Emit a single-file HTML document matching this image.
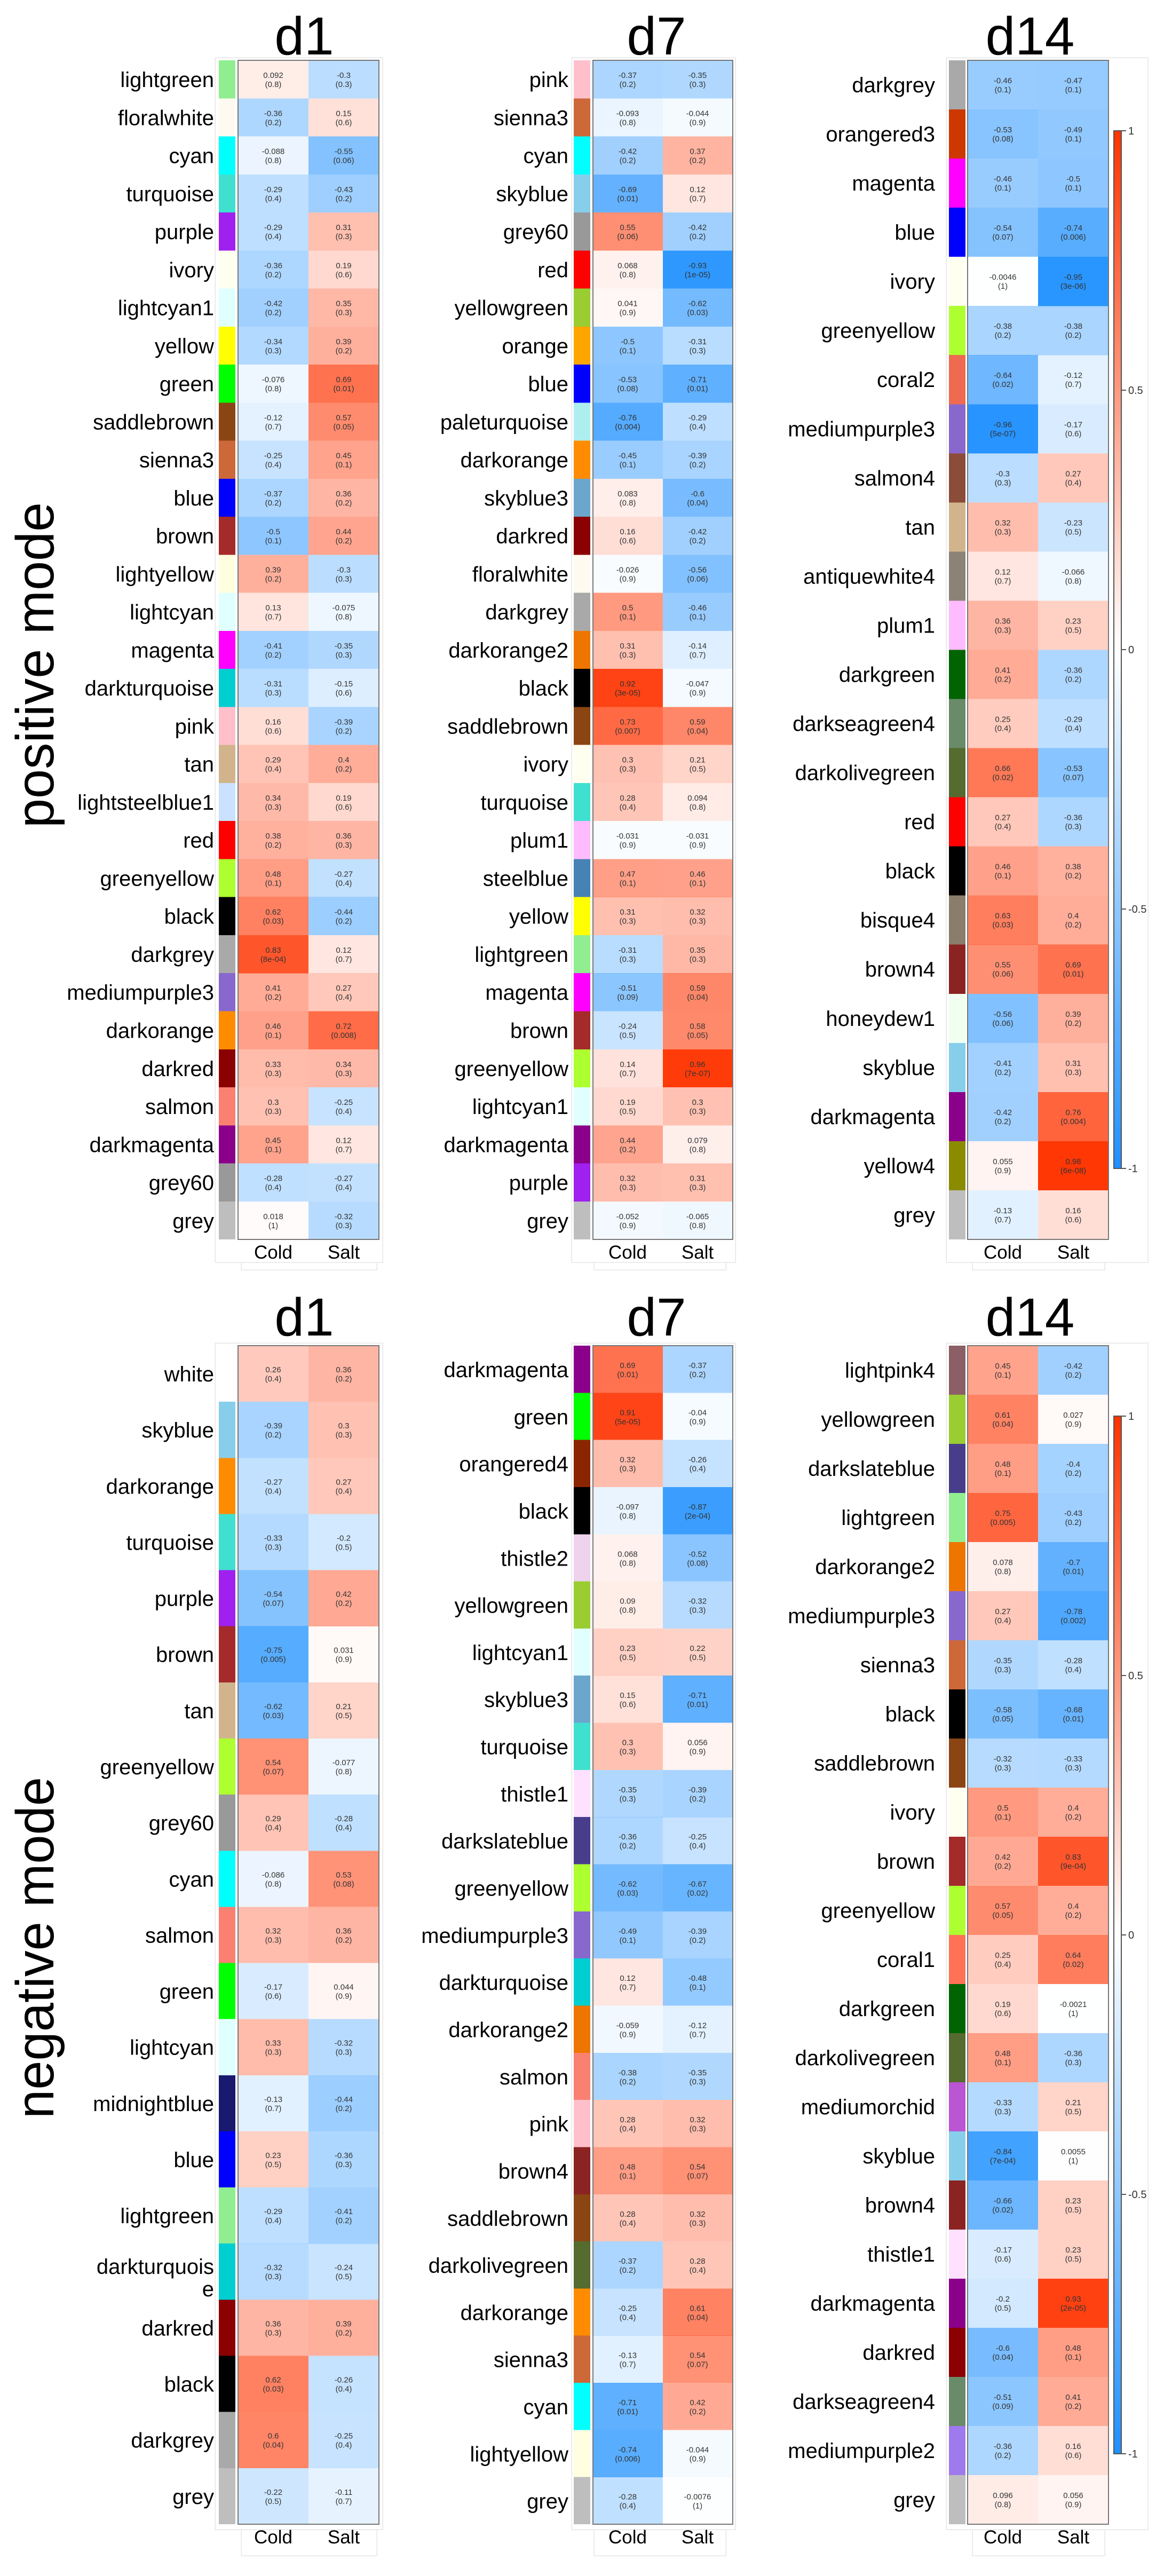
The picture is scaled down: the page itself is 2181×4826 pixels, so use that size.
<!DOCTYPE html>
<html><head><meta charset="utf-8"><style>
html,body{margin:0;padding:0;background:#fff}
svg{display:block}
.l{font-family:"Liberation Sans",sans-serif;font-size:40px;text-anchor:end;fill:#000}
.n{font-family:"Liberation Sans",sans-serif;font-size:15px;text-anchor:middle;fill:#333}
.p{fill:#FF3300}.q{fill:#1E90FF}
.t{font-family:"Liberation Sans",sans-serif;font-size:100px;text-anchor:middle;fill:#000}
.x{font-family:"Liberation Sans",sans-serif;font-size:35px;text-anchor:middle;fill:#000}
.m{font-family:"Liberation Sans",sans-serif;font-size:100px;text-anchor:middle;fill:#000}
.c{font-family:"Liberation Sans",sans-serif;font-size:20px;fill:#333}
.f{fill:none;stroke:#e6e6e6;stroke-width:1.5}
.b{fill:none;stroke:#777;stroke-width:2}
rect{shape-rendering:crispEdges}
</style></head><body>
<svg width="2181" height="4826" viewBox="0 0 2181 4826" xmlns="http://www.w3.org/2000/svg">
<defs><linearGradient id="cb" x1="0" y1="0" x2="0" y2="1"><stop offset="0" stop-color="#FF3300"/><stop offset=".5" stop-color="#FFFFFF"/><stop offset="1" stop-color="#1E90FF"/></linearGradient></defs>

<text class="m" transform="translate(100,1246) rotate(-90)" textLength="610" lengthAdjust="spacingAndGlyphs">positive mode</text>
<text class="m" transform="translate(100,3649) rotate(-90)" textLength="640" lengthAdjust="spacingAndGlyphs">negative mode</text>

<text class="t" x="570" y="102">d1</text>
<text class="t" x="1230" y="102">d7</text>
<text class="t" x="1930" y="102">d14</text>
<text class="t" x="570" y="2502">d1</text>
<text class="t" x="1230" y="2502">d7</text>
<text class="t" x="1930" y="2502">d14</text>

<rect class="f" x="403" y="108" width="314" height="2257"/>
<rect class="f" x="1071" y="108" width="307" height="2257"/>
<rect class="f" x="1773" y="108" width="378" height="2257"/>
<rect class="f" x="403" y="2516" width="314" height="2223"/>
<rect class="f" x="1071" y="2516" width="307" height="2223"/>
<rect class="f" x="1773" y="2516" width="378" height="2223"/>
<rect class="f" x="452" y="2365" width="254" height="14"/>
<rect class="f" x="1113" y="2365" width="247" height="14"/>
<rect class="f" x="1822" y="2365" width="248" height="14"/>
<rect class="f" x="452" y="4739" width="254" height="49"/>
<rect class="f" x="1113" y="4739" width="247" height="49"/>
<rect class="f" x="1822" y="4739" width="248" height="49"/>

<!-- ===== TOP d1 ===== -->
<g transform="translate(0,113)">
<g transform="translate(0,0)"><text class="l" x="401" y="50">lightgreen</text><rect x="410" width="31" height="71.3" fill="#90EE90"/><rect class="p" x="446" width="132" height="71.3" fill-opacity=".092"/><rect class="q" x="578" width="132" height="71.3" fill-opacity=".3"/><text class="n" x="512" y="33">0.092</text><text class="n" x="512" y="50">(0.8)</text><text class="n" x="644" y="33">-0.3</text><text class="n" x="644" y="50">(0.3)</text></g>
<g transform="translate(0,71.26)"><text class="l" x="401" y="50">floralwhite</text><rect x="410" width="31" height="71.3" fill="#FFFAF0"/><rect class="q" x="446" width="132" height="71.3" fill-opacity=".36"/><rect class="p" x="578" width="132" height="71.3" fill-opacity=".15"/><text class="n" x="512" y="33">-0.36</text><text class="n" x="512" y="50">(0.2)</text><text class="n" x="644" y="33">0.15</text><text class="n" x="644" y="50">(0.6)</text></g>
<g transform="translate(0,142.52)"><text class="l" x="401" y="50">cyan</text><rect x="410" width="31" height="71.3" fill="#00FFFF"/><rect class="q" x="446" width="132" height="71.3" fill-opacity=".088"/><rect class="q" x="578" width="132" height="71.3" fill-opacity=".55"/><text class="n" x="512" y="33">-0.088</text><text class="n" x="512" y="50">(0.8)</text><text class="n" x="644" y="33">-0.55</text><text class="n" x="644" y="50">(0.06)</text></g>
<g transform="translate(0,213.78)"><text class="l" x="401" y="50">turquoise</text><rect x="410" width="31" height="71.3" fill="#40E0D0"/><rect class="q" x="446" width="132" height="71.3" fill-opacity=".29"/><rect class="q" x="578" width="132" height="71.3" fill-opacity=".43"/><text class="n" x="512" y="33">-0.29</text><text class="n" x="512" y="50">(0.4)</text><text class="n" x="644" y="33">-0.43</text><text class="n" x="644" y="50">(0.2)</text></g>
<g transform="translate(0,285.04)"><text class="l" x="401" y="50">purple</text><rect x="410" width="31" height="71.3" fill="#A020F0"/><rect class="q" x="446" width="132" height="71.3" fill-opacity=".29"/><rect class="p" x="578" width="132" height="71.3" fill-opacity=".31"/><text class="n" x="512" y="33">-0.29</text><text class="n" x="512" y="50">(0.4)</text><text class="n" x="644" y="33">0.31</text><text class="n" x="644" y="50">(0.3)</text></g>
<g transform="translate(0,356.3)"><text class="l" x="401" y="50">ivory</text><rect x="410" width="31" height="71.3" fill="#FFFFF0"/><rect class="q" x="446" width="132" height="71.3" fill-opacity=".36"/><rect class="p" x="578" width="132" height="71.3" fill-opacity=".19"/><text class="n" x="512" y="33">-0.36</text><text class="n" x="512" y="50">(0.2)</text><text class="n" x="644" y="33">0.19</text><text class="n" x="644" y="50">(0.6)</text></g>
<g transform="translate(0,427.56)"><text class="l" x="401" y="50">lightcyan1</text><rect x="410" width="31" height="71.3" fill="#E0FFFF"/><rect class="q" x="446" width="132" height="71.3" fill-opacity=".42"/><rect class="p" x="578" width="132" height="71.3" fill-opacity=".35"/><text class="n" x="512" y="33">-0.42</text><text class="n" x="512" y="50">(0.2)</text><text class="n" x="644" y="33">0.35</text><text class="n" x="644" y="50">(0.3)</text></g>
<g transform="translate(0,498.82)"><text class="l" x="401" y="50">yellow</text><rect x="410" width="31" height="71.3" fill="#FFFF00"/><rect class="q" x="446" width="132" height="71.3" fill-opacity=".34"/><rect class="p" x="578" width="132" height="71.3" fill-opacity=".39"/><text class="n" x="512" y="33">-0.34</text><text class="n" x="512" y="50">(0.3)</text><text class="n" x="644" y="33">0.39</text><text class="n" x="644" y="50">(0.2)</text></g>
<g transform="translate(0,570.08)"><text class="l" x="401" y="50">green</text><rect x="410" width="31" height="71.3" fill="#00FF00"/><rect class="q" x="446" width="132" height="71.3" fill-opacity=".076"/><rect class="p" x="578" width="132" height="71.3" fill-opacity=".69"/><text class="n" x="512" y="33">-0.076</text><text class="n" x="512" y="50">(0.8)</text><text class="n" x="644" y="33">0.69</text><text class="n" x="644" y="50">(0.01)</text></g>
<g transform="translate(0,641.34)"><text class="l" x="401" y="50">saddlebrown</text><rect x="410" width="31" height="71.3" fill="#8B4513"/><rect class="q" x="446" width="132" height="71.3" fill-opacity=".12"/><rect class="p" x="578" width="132" height="71.3" fill-opacity=".57"/><text class="n" x="512" y="33">-0.12</text><text class="n" x="512" y="50">(0.7)</text><text class="n" x="644" y="33">0.57</text><text class="n" x="644" y="50">(0.05)</text></g>
<g transform="translate(0,712.6)"><text class="l" x="401" y="50">sienna3</text><rect x="410" width="31" height="71.3" fill="#CD6839"/><rect class="q" x="446" width="132" height="71.3" fill-opacity=".25"/><rect class="p" x="578" width="132" height="71.3" fill-opacity=".45"/><text class="n" x="512" y="33">-0.25</text><text class="n" x="512" y="50">(0.4)</text><text class="n" x="644" y="33">0.45</text><text class="n" x="644" y="50">(0.1)</text></g>
<g transform="translate(0,783.86)"><text class="l" x="401" y="50">blue</text><rect x="410" width="31" height="71.3" fill="#0000FF"/><rect class="q" x="446" width="132" height="71.3" fill-opacity=".37"/><rect class="p" x="578" width="132" height="71.3" fill-opacity=".36"/><text class="n" x="512" y="33">-0.37</text><text class="n" x="512" y="50">(0.2)</text><text class="n" x="644" y="33">0.36</text><text class="n" x="644" y="50">(0.2)</text></g>
<g transform="translate(0,855.12)"><text class="l" x="401" y="50">brown</text><rect x="410" width="31" height="71.3" fill="#A52A2A"/><rect class="q" x="446" width="132" height="71.3" fill-opacity=".5"/><rect class="p" x="578" width="132" height="71.3" fill-opacity=".44"/><text class="n" x="512" y="33">-0.5</text><text class="n" x="512" y="50">(0.1)</text><text class="n" x="644" y="33">0.44</text><text class="n" x="644" y="50">(0.2)</text></g>
<g transform="translate(0,926.38)"><text class="l" x="401" y="50">lightyellow</text><rect x="410" width="31" height="71.3" fill="#FFFFE0"/><rect class="p" x="446" width="132" height="71.3" fill-opacity=".39"/><rect class="q" x="578" width="132" height="71.3" fill-opacity=".3"/><text class="n" x="512" y="33">0.39</text><text class="n" x="512" y="50">(0.2)</text><text class="n" x="644" y="33">-0.3</text><text class="n" x="644" y="50">(0.3)</text></g>
<g transform="translate(0,997.64)"><text class="l" x="401" y="50">lightcyan</text><rect x="410" width="31" height="71.3" fill="#E0FFFF"/><rect class="p" x="446" width="132" height="71.3" fill-opacity=".13"/><rect class="q" x="578" width="132" height="71.3" fill-opacity=".075"/><text class="n" x="512" y="33">0.13</text><text class="n" x="512" y="50">(0.7)</text><text class="n" x="644" y="33">-0.075</text><text class="n" x="644" y="50">(0.8)</text></g>
<g transform="translate(0,1068.9)"><text class="l" x="401" y="50">magenta</text><rect x="410" width="31" height="71.3" fill="#FF00FF"/><rect class="q" x="446" width="132" height="71.3" fill-opacity=".41"/><rect class="q" x="578" width="132" height="71.3" fill-opacity=".35"/><text class="n" x="512" y="33">-0.41</text><text class="n" x="512" y="50">(0.2)</text><text class="n" x="644" y="33">-0.35</text><text class="n" x="644" y="50">(0.3)</text></g>
<g transform="translate(0,1140.16)"><text class="l" x="401" y="50">darkturquoise</text><rect x="410" width="31" height="71.3" fill="#00CED1"/><rect class="q" x="446" width="132" height="71.3" fill-opacity=".31"/><rect class="q" x="578" width="132" height="71.3" fill-opacity=".15"/><text class="n" x="512" y="33">-0.31</text><text class="n" x="512" y="50">(0.3)</text><text class="n" x="644" y="33">-0.15</text><text class="n" x="644" y="50">(0.6)</text></g>
<g transform="translate(0,1211.42)"><text class="l" x="401" y="50">pink</text><rect x="410" width="31" height="71.3" fill="#FFC0CB"/><rect class="p" x="446" width="132" height="71.3" fill-opacity=".16"/><rect class="q" x="578" width="132" height="71.3" fill-opacity=".39"/><text class="n" x="512" y="33">0.16</text><text class="n" x="512" y="50">(0.6)</text><text class="n" x="644" y="33">-0.39</text><text class="n" x="644" y="50">(0.2)</text></g>
<g transform="translate(0,1282.68)"><text class="l" x="401" y="50">tan</text><rect x="410" width="31" height="71.3" fill="#D2B48C"/><rect class="p" x="446" width="132" height="71.3" fill-opacity=".29"/><rect class="p" x="578" width="132" height="71.3" fill-opacity=".4"/><text class="n" x="512" y="33">0.29</text><text class="n" x="512" y="50">(0.4)</text><text class="n" x="644" y="33">0.4</text><text class="n" x="644" y="50">(0.2)</text></g>
<g transform="translate(0,1353.94)"><text class="l" x="401" y="50">lightsteelblue1</text><rect x="410" width="31" height="71.3" fill="#CAE1FF"/><rect class="p" x="446" width="132" height="71.3" fill-opacity=".34"/><rect class="p" x="578" width="132" height="71.3" fill-opacity=".19"/><text class="n" x="512" y="33">0.34</text><text class="n" x="512" y="50">(0.3)</text><text class="n" x="644" y="33">0.19</text><text class="n" x="644" y="50">(0.6)</text></g>
<g transform="translate(0,1425.2)"><text class="l" x="401" y="50">red</text><rect x="410" width="31" height="71.3" fill="#FF0000"/><rect class="p" x="446" width="132" height="71.3" fill-opacity=".38"/><rect class="p" x="578" width="132" height="71.3" fill-opacity=".36"/><text class="n" x="512" y="33">0.38</text><text class="n" x="512" y="50">(0.2)</text><text class="n" x="644" y="33">0.36</text><text class="n" x="644" y="50">(0.3)</text></g>
<g transform="translate(0,1496.46)"><text class="l" x="401" y="50">greenyellow</text><rect x="410" width="31" height="71.3" fill="#ADFF2F"/><rect class="p" x="446" width="132" height="71.3" fill-opacity=".48"/><rect class="q" x="578" width="132" height="71.3" fill-opacity=".27"/><text class="n" x="512" y="33">0.48</text><text class="n" x="512" y="50">(0.1)</text><text class="n" x="644" y="33">-0.27</text><text class="n" x="644" y="50">(0.4)</text></g>
<g transform="translate(0,1567.72)"><text class="l" x="401" y="50">black</text><rect x="410" width="31" height="71.3" fill="#000000"/><rect class="p" x="446" width="132" height="71.3" fill-opacity=".62"/><rect class="q" x="578" width="132" height="71.3" fill-opacity=".44"/><text class="n" x="512" y="33">0.62</text><text class="n" x="512" y="50">(0.03)</text><text class="n" x="644" y="33">-0.44</text><text class="n" x="644" y="50">(0.2)</text></g>
<g transform="translate(0,1638.98)"><text class="l" x="401" y="50">darkgrey</text><rect x="410" width="31" height="71.3" fill="#A9A9A9"/><rect class="p" x="446" width="132" height="71.3" fill-opacity=".83"/><rect class="p" x="578" width="132" height="71.3" fill-opacity=".12"/><text class="n" x="512" y="33">0.83</text><text class="n" x="512" y="50">(8e-04)</text><text class="n" x="644" y="33">0.12</text><text class="n" x="644" y="50">(0.7)</text></g>
<g transform="translate(0,1710.24)"><text class="l" x="401" y="50">mediumpurple3</text><rect x="410" width="31" height="71.3" fill="#8968CD"/><rect class="p" x="446" width="132" height="71.3" fill-opacity=".41"/><rect class="p" x="578" width="132" height="71.3" fill-opacity=".27"/><text class="n" x="512" y="33">0.41</text><text class="n" x="512" y="50">(0.2)</text><text class="n" x="644" y="33">0.27</text><text class="n" x="644" y="50">(0.4)</text></g>
<g transform="translate(0,1781.5)"><text class="l" x="401" y="50">darkorange</text><rect x="410" width="31" height="71.3" fill="#FF8C00"/><rect class="p" x="446" width="132" height="71.3" fill-opacity=".46"/><rect class="p" x="578" width="132" height="71.3" fill-opacity=".72"/><text class="n" x="512" y="33">0.46</text><text class="n" x="512" y="50">(0.1)</text><text class="n" x="644" y="33">0.72</text><text class="n" x="644" y="50">(0.008)</text></g>
<g transform="translate(0,1852.76)"><text class="l" x="401" y="50">darkred</text><rect x="410" width="31" height="71.3" fill="#8B0000"/><rect class="p" x="446" width="132" height="71.3" fill-opacity=".33"/><rect class="p" x="578" width="132" height="71.3" fill-opacity=".34"/><text class="n" x="512" y="33">0.33</text><text class="n" x="512" y="50">(0.3)</text><text class="n" x="644" y="33">0.34</text><text class="n" x="644" y="50">(0.3)</text></g>
<g transform="translate(0,1924.02)"><text class="l" x="401" y="50">salmon</text><rect x="410" width="31" height="71.3" fill="#FA8072"/><rect class="p" x="446" width="132" height="71.3" fill-opacity=".3"/><rect class="q" x="578" width="132" height="71.3" fill-opacity=".25"/><text class="n" x="512" y="33">0.3</text><text class="n" x="512" y="50">(0.3)</text><text class="n" x="644" y="33">-0.25</text><text class="n" x="644" y="50">(0.4)</text></g>
<g transform="translate(0,1995.28)"><text class="l" x="401" y="50">darkmagenta</text><rect x="410" width="31" height="71.3" fill="#8B008B"/><rect class="p" x="446" width="132" height="71.3" fill-opacity=".45"/><rect class="p" x="578" width="132" height="71.3" fill-opacity=".12"/><text class="n" x="512" y="33">0.45</text><text class="n" x="512" y="50">(0.1)</text><text class="n" x="644" y="33">0.12</text><text class="n" x="644" y="50">(0.7)</text></g>
<g transform="translate(0,2066.54)"><text class="l" x="401" y="50">grey60</text><rect x="410" width="31" height="71.3" fill="#999999"/><rect class="q" x="446" width="132" height="71.3" fill-opacity=".28"/><rect class="q" x="578" width="132" height="71.3" fill-opacity=".27"/><text class="n" x="512" y="33">-0.28</text><text class="n" x="512" y="50">(0.4)</text><text class="n" x="644" y="33">-0.27</text><text class="n" x="644" y="50">(0.4)</text></g>
<g transform="translate(0,2137.8)"><text class="l" x="401" y="50">grey</text><rect x="410" width="31" height="71.3" fill="#BEBEBE"/><rect class="p" x="446" width="132" height="71.3" fill-opacity=".018"/><rect class="q" x="578" width="132" height="71.3" fill-opacity=".32"/><text class="n" x="512" y="33">0.018</text><text class="n" x="512" y="50">(1)</text><text class="n" x="644" y="33">-0.32</text><text class="n" x="644" y="50">(0.3)</text></g>
<rect class="b" x="446" y="0" width="264" height="2209"/>
</g>

<!-- ===== TOP d7 ===== -->
<g transform="translate(0,113)">
<g transform="translate(0,0)"><text class="l" x="1065" y="50">pink</text><rect x="1075" width="31" height="71.3" fill="#FFC0CB"/><rect class="q" x="1111" width="131" height="71.3" fill-opacity=".37"/><rect class="q" x="1242" width="131" height="71.3" fill-opacity=".35"/><text class="n" x="1176" y="33">-0.37</text><text class="n" x="1176" y="50">(0.2)</text><text class="n" x="1307" y="33">-0.35</text><text class="n" x="1307" y="50">(0.3)</text></g>
<g transform="translate(0,71.26)"><text class="l" x="1065" y="50">sienna3</text><rect x="1075" width="31" height="71.3" fill="#CD6839"/><rect class="q" x="1111" width="131" height="71.3" fill-opacity=".093"/><rect class="q" x="1242" width="131" height="71.3" fill-opacity=".044"/><text class="n" x="1176" y="33">-0.093</text><text class="n" x="1176" y="50">(0.8)</text><text class="n" x="1307" y="33">-0.044</text><text class="n" x="1307" y="50">(0.9)</text></g>
<g transform="translate(0,142.52)"><text class="l" x="1065" y="50">cyan</text><rect x="1075" width="31" height="71.3" fill="#00FFFF"/><rect class="q" x="1111" width="131" height="71.3" fill-opacity=".42"/><rect class="p" x="1242" width="131" height="71.3" fill-opacity=".37"/><text class="n" x="1176" y="33">-0.42</text><text class="n" x="1176" y="50">(0.2)</text><text class="n" x="1307" y="33">0.37</text><text class="n" x="1307" y="50">(0.2)</text></g>
<g transform="translate(0,213.78)"><text class="l" x="1065" y="50">skyblue</text><rect x="1075" width="31" height="71.3" fill="#87CEEB"/><rect class="q" x="1111" width="131" height="71.3" fill-opacity=".69"/><rect class="p" x="1242" width="131" height="71.3" fill-opacity=".12"/><text class="n" x="1176" y="33">-0.69</text><text class="n" x="1176" y="50">(0.01)</text><text class="n" x="1307" y="33">0.12</text><text class="n" x="1307" y="50">(0.7)</text></g>
<g transform="translate(0,285.04)"><text class="l" x="1065" y="50">grey60</text><rect x="1075" width="31" height="71.3" fill="#999999"/><rect class="p" x="1111" width="131" height="71.3" fill-opacity=".55"/><rect class="q" x="1242" width="131" height="71.3" fill-opacity=".42"/><text class="n" x="1176" y="33">0.55</text><text class="n" x="1176" y="50">(0.06)</text><text class="n" x="1307" y="33">-0.42</text><text class="n" x="1307" y="50">(0.2)</text></g>
<g transform="translate(0,356.3)"><text class="l" x="1065" y="50">red</text><rect x="1075" width="31" height="71.3" fill="#FF0000"/><rect class="p" x="1111" width="131" height="71.3" fill-opacity=".068"/><rect class="q" x="1242" width="131" height="71.3" fill-opacity=".93"/><text class="n" x="1176" y="33">0.068</text><text class="n" x="1176" y="50">(0.8)</text><text class="n" x="1307" y="33">-0.93</text><text class="n" x="1307" y="50">(1e-05)</text></g>
<g transform="translate(0,427.56)"><text class="l" x="1065" y="50">yellowgreen</text><rect x="1075" width="31" height="71.3" fill="#9ACD32"/><rect class="p" x="1111" width="131" height="71.3" fill-opacity=".041"/><rect class="q" x="1242" width="131" height="71.3" fill-opacity=".62"/><text class="n" x="1176" y="33">0.041</text><text class="n" x="1176" y="50">(0.9)</text><text class="n" x="1307" y="33">-0.62</text><text class="n" x="1307" y="50">(0.03)</text></g>
<g transform="translate(0,498.82)"><text class="l" x="1065" y="50">orange</text><rect x="1075" width="31" height="71.3" fill="#FFA500"/><rect class="q" x="1111" width="131" height="71.3" fill-opacity=".5"/><rect class="q" x="1242" width="131" height="71.3" fill-opacity=".31"/><text class="n" x="1176" y="33">-0.5</text><text class="n" x="1176" y="50">(0.1)</text><text class="n" x="1307" y="33">-0.31</text><text class="n" x="1307" y="50">(0.3)</text></g>
<g transform="translate(0,570.08)"><text class="l" x="1065" y="50">blue</text><rect x="1075" width="31" height="71.3" fill="#0000FF"/><rect class="q" x="1111" width="131" height="71.3" fill-opacity=".53"/><rect class="q" x="1242" width="131" height="71.3" fill-opacity=".71"/><text class="n" x="1176" y="33">-0.53</text><text class="n" x="1176" y="50">(0.08)</text><text class="n" x="1307" y="33">-0.71</text><text class="n" x="1307" y="50">(0.01)</text></g>
<g transform="translate(0,641.34)"><text class="l" x="1065" y="50">paleturquoise</text><rect x="1075" width="31" height="71.3" fill="#AFEEEE"/><rect class="q" x="1111" width="131" height="71.3" fill-opacity=".76"/><rect class="q" x="1242" width="131" height="71.3" fill-opacity=".29"/><text class="n" x="1176" y="33">-0.76</text><text class="n" x="1176" y="50">(0.004)</text><text class="n" x="1307" y="33">-0.29</text><text class="n" x="1307" y="50">(0.4)</text></g>
<g transform="translate(0,712.6)"><text class="l" x="1065" y="50">darkorange</text><rect x="1075" width="31" height="71.3" fill="#FF8C00"/><rect class="q" x="1111" width="131" height="71.3" fill-opacity=".45"/><rect class="q" x="1242" width="131" height="71.3" fill-opacity=".39"/><text class="n" x="1176" y="33">-0.45</text><text class="n" x="1176" y="50">(0.1)</text><text class="n" x="1307" y="33">-0.39</text><text class="n" x="1307" y="50">(0.2)</text></g>
<g transform="translate(0,783.86)"><text class="l" x="1065" y="50">skyblue3</text><rect x="1075" width="31" height="71.3" fill="#6CA6CD"/><rect class="p" x="1111" width="131" height="71.3" fill-opacity=".083"/><rect class="q" x="1242" width="131" height="71.3" fill-opacity=".6"/><text class="n" x="1176" y="33">0.083</text><text class="n" x="1176" y="50">(0.8)</text><text class="n" x="1307" y="33">-0.6</text><text class="n" x="1307" y="50">(0.04)</text></g>
<g transform="translate(0,855.12)"><text class="l" x="1065" y="50">darkred</text><rect x="1075" width="31" height="71.3" fill="#8B0000"/><rect class="p" x="1111" width="131" height="71.3" fill-opacity=".16"/><rect class="q" x="1242" width="131" height="71.3" fill-opacity=".42"/><text class="n" x="1176" y="33">0.16</text><text class="n" x="1176" y="50">(0.6)</text><text class="n" x="1307" y="33">-0.42</text><text class="n" x="1307" y="50">(0.2)</text></g>
<g transform="translate(0,926.38)"><text class="l" x="1065" y="50">floralwhite</text><rect x="1075" width="31" height="71.3" fill="#FFFAF0"/><rect class="q" x="1111" width="131" height="71.3" fill-opacity=".026"/><rect class="q" x="1242" width="131" height="71.3" fill-opacity=".56"/><text class="n" x="1176" y="33">-0.026</text><text class="n" x="1176" y="50">(0.9)</text><text class="n" x="1307" y="33">-0.56</text><text class="n" x="1307" y="50">(0.06)</text></g>
<g transform="translate(0,997.64)"><text class="l" x="1065" y="50">darkgrey</text><rect x="1075" width="31" height="71.3" fill="#A9A9A9"/><rect class="p" x="1111" width="131" height="71.3" fill-opacity=".5"/><rect class="q" x="1242" width="131" height="71.3" fill-opacity=".46"/><text class="n" x="1176" y="33">0.5</text><text class="n" x="1176" y="50">(0.1)</text><text class="n" x="1307" y="33">-0.46</text><text class="n" x="1307" y="50">(0.1)</text></g>
<g transform="translate(0,1068.9)"><text class="l" x="1065" y="50">darkorange2</text><rect x="1075" width="31" height="71.3" fill="#EE7600"/><rect class="p" x="1111" width="131" height="71.3" fill-opacity=".31"/><rect class="q" x="1242" width="131" height="71.3" fill-opacity=".14"/><text class="n" x="1176" y="33">0.31</text><text class="n" x="1176" y="50">(0.3)</text><text class="n" x="1307" y="33">-0.14</text><text class="n" x="1307" y="50">(0.7)</text></g>
<g transform="translate(0,1140.16)"><text class="l" x="1065" y="50">black</text><rect x="1075" width="31" height="71.3" fill="#000000"/><rect class="p" x="1111" width="131" height="71.3" fill-opacity=".92"/><rect class="q" x="1242" width="131" height="71.3" fill-opacity=".047"/><text class="n" x="1176" y="33">0.92</text><text class="n" x="1176" y="50">(3e-05)</text><text class="n" x="1307" y="33">-0.047</text><text class="n" x="1307" y="50">(0.9)</text></g>
<g transform="translate(0,1211.42)"><text class="l" x="1065" y="50">saddlebrown</text><rect x="1075" width="31" height="71.3" fill="#8B4513"/><rect class="p" x="1111" width="131" height="71.3" fill-opacity=".73"/><rect class="p" x="1242" width="131" height="71.3" fill-opacity=".59"/><text class="n" x="1176" y="33">0.73</text><text class="n" x="1176" y="50">(0.007)</text><text class="n" x="1307" y="33">0.59</text><text class="n" x="1307" y="50">(0.04)</text></g>
<g transform="translate(0,1282.68)"><text class="l" x="1065" y="50">ivory</text><rect x="1075" width="31" height="71.3" fill="#FFFFF0"/><rect class="p" x="1111" width="131" height="71.3" fill-opacity=".3"/><rect class="p" x="1242" width="131" height="71.3" fill-opacity=".21"/><text class="n" x="1176" y="33">0.3</text><text class="n" x="1176" y="50">(0.3)</text><text class="n" x="1307" y="33">0.21</text><text class="n" x="1307" y="50">(0.5)</text></g>
<g transform="translate(0,1353.94)"><text class="l" x="1065" y="50">turquoise</text><rect x="1075" width="31" height="71.3" fill="#40E0D0"/><rect class="p" x="1111" width="131" height="71.3" fill-opacity=".28"/><rect class="p" x="1242" width="131" height="71.3" fill-opacity=".094"/><text class="n" x="1176" y="33">0.28</text><text class="n" x="1176" y="50">(0.4)</text><text class="n" x="1307" y="33">0.094</text><text class="n" x="1307" y="50">(0.8)</text></g>
<g transform="translate(0,1425.2)"><text class="l" x="1065" y="50">plum1</text><rect x="1075" width="31" height="71.3" fill="#FFBBFF"/><rect class="q" x="1111" width="131" height="71.3" fill-opacity=".031"/><rect class="q" x="1242" width="131" height="71.3" fill-opacity=".031"/><text class="n" x="1176" y="33">-0.031</text><text class="n" x="1176" y="50">(0.9)</text><text class="n" x="1307" y="33">-0.031</text><text class="n" x="1307" y="50">(0.9)</text></g>
<g transform="translate(0,1496.46)"><text class="l" x="1065" y="50">steelblue</text><rect x="1075" width="31" height="71.3" fill="#4682B4"/><rect class="p" x="1111" width="131" height="71.3" fill-opacity=".47"/><rect class="p" x="1242" width="131" height="71.3" fill-opacity=".46"/><text class="n" x="1176" y="33">0.47</text><text class="n" x="1176" y="50">(0.1)</text><text class="n" x="1307" y="33">0.46</text><text class="n" x="1307" y="50">(0.1)</text></g>
<g transform="translate(0,1567.72)"><text class="l" x="1065" y="50">yellow</text><rect x="1075" width="31" height="71.3" fill="#FFFF00"/><rect class="p" x="1111" width="131" height="71.3" fill-opacity=".31"/><rect class="p" x="1242" width="131" height="71.3" fill-opacity=".32"/><text class="n" x="1176" y="33">0.31</text><text class="n" x="1176" y="50">(0.3)</text><text class="n" x="1307" y="33">0.32</text><text class="n" x="1307" y="50">(0.3)</text></g>
<g transform="translate(0,1638.98)"><text class="l" x="1065" y="50">lightgreen</text><rect x="1075" width="31" height="71.3" fill="#90EE90"/><rect class="q" x="1111" width="131" height="71.3" fill-opacity=".31"/><rect class="p" x="1242" width="131" height="71.3" fill-opacity=".35"/><text class="n" x="1176" y="33">-0.31</text><text class="n" x="1176" y="50">(0.3)</text><text class="n" x="1307" y="33">0.35</text><text class="n" x="1307" y="50">(0.3)</text></g>
<g transform="translate(0,1710.24)"><text class="l" x="1065" y="50">magenta</text><rect x="1075" width="31" height="71.3" fill="#FF00FF"/><rect class="q" x="1111" width="131" height="71.3" fill-opacity=".51"/><rect class="p" x="1242" width="131" height="71.3" fill-opacity=".59"/><text class="n" x="1176" y="33">-0.51</text><text class="n" x="1176" y="50">(0.09)</text><text class="n" x="1307" y="33">0.59</text><text class="n" x="1307" y="50">(0.04)</text></g>
<g transform="translate(0,1781.5)"><text class="l" x="1065" y="50">brown</text><rect x="1075" width="31" height="71.3" fill="#A52A2A"/><rect class="q" x="1111" width="131" height="71.3" fill-opacity=".24"/><rect class="p" x="1242" width="131" height="71.3" fill-opacity=".58"/><text class="n" x="1176" y="33">-0.24</text><text class="n" x="1176" y="50">(0.5)</text><text class="n" x="1307" y="33">0.58</text><text class="n" x="1307" y="50">(0.05)</text></g>
<g transform="translate(0,1852.76)"><text class="l" x="1065" y="50">greenyellow</text><rect x="1075" width="31" height="71.3" fill="#ADFF2F"/><rect class="p" x="1111" width="131" height="71.3" fill-opacity=".14"/><rect class="p" x="1242" width="131" height="71.3" fill-opacity=".96"/><text class="n" x="1176" y="33">0.14</text><text class="n" x="1176" y="50">(0.7)</text><text class="n" x="1307" y="33">0.96</text><text class="n" x="1307" y="50">(7e-07)</text></g>
<g transform="translate(0,1924.02)"><text class="l" x="1065" y="50">lightcyan1</text><rect x="1075" width="31" height="71.3" fill="#E0FFFF"/><rect class="p" x="1111" width="131" height="71.3" fill-opacity=".19"/><rect class="p" x="1242" width="131" height="71.3" fill-opacity=".3"/><text class="n" x="1176" y="33">0.19</text><text class="n" x="1176" y="50">(0.5)</text><text class="n" x="1307" y="33">0.3</text><text class="n" x="1307" y="50">(0.3)</text></g>
<g transform="translate(0,1995.28)"><text class="l" x="1065" y="50">darkmagenta</text><rect x="1075" width="31" height="71.3" fill="#8B008B"/><rect class="p" x="1111" width="131" height="71.3" fill-opacity=".44"/><rect class="p" x="1242" width="131" height="71.3" fill-opacity=".079"/><text class="n" x="1176" y="33">0.44</text><text class="n" x="1176" y="50">(0.2)</text><text class="n" x="1307" y="33">0.079</text><text class="n" x="1307" y="50">(0.8)</text></g>
<g transform="translate(0,2066.54)"><text class="l" x="1065" y="50">purple</text><rect x="1075" width="31" height="71.3" fill="#A020F0"/><rect class="p" x="1111" width="131" height="71.3" fill-opacity=".32"/><rect class="p" x="1242" width="131" height="71.3" fill-opacity=".31"/><text class="n" x="1176" y="33">0.32</text><text class="n" x="1176" y="50">(0.3)</text><text class="n" x="1307" y="33">0.31</text><text class="n" x="1307" y="50">(0.3)</text></g>
<g transform="translate(0,2137.8)"><text class="l" x="1065" y="50">grey</text><rect x="1075" width="31" height="71.3" fill="#BEBEBE"/><rect class="q" x="1111" width="131" height="71.3" fill-opacity=".052"/><rect class="q" x="1242" width="131" height="71.3" fill-opacity=".065"/><text class="n" x="1176" y="33">-0.052</text><text class="n" x="1176" y="50">(0.9)</text><text class="n" x="1307" y="33">-0.065</text><text class="n" x="1307" y="50">(0.8)</text></g>
<rect class="b" x="1111" y="0" width="262" height="2209"/>
</g>

<!-- ===== TOP d14 ===== -->
<g transform="translate(0,113)">
<g transform="translate(0,0)"><text class="l" x="1752" y="60">darkgrey</text><rect x="1778" width="31" height="92.1" fill="#A9A9A9"/><rect class="q" x="1813" width="132" height="92.1" fill-opacity=".46"/><rect class="q" x="1945" width="132" height="92.1" fill-opacity=".47"/><text class="n" x="1879" y="43">-0.46</text><text class="n" x="1879" y="60">(0.1)</text><text class="n" x="2011" y="43">-0.47</text><text class="n" x="2011" y="60">(0.1)</text></g>
<g transform="translate(0,92.04)"><text class="l" x="1752" y="60">orangered3</text><rect x="1778" width="31" height="92.1" fill="#CD3700"/><rect class="q" x="1813" width="132" height="92.1" fill-opacity=".53"/><rect class="q" x="1945" width="132" height="92.1" fill-opacity=".49"/><text class="n" x="1879" y="43">-0.53</text><text class="n" x="1879" y="60">(0.08)</text><text class="n" x="2011" y="43">-0.49</text><text class="n" x="2011" y="60">(0.1)</text></g>
<g transform="translate(0,184.08)"><text class="l" x="1752" y="60">magenta</text><rect x="1778" width="31" height="92.1" fill="#FF00FF"/><rect class="q" x="1813" width="132" height="92.1" fill-opacity=".46"/><rect class="q" x="1945" width="132" height="92.1" fill-opacity=".5"/><text class="n" x="1879" y="43">-0.46</text><text class="n" x="1879" y="60">(0.1)</text><text class="n" x="2011" y="43">-0.5</text><text class="n" x="2011" y="60">(0.1)</text></g>
<g transform="translate(0,276.12)"><text class="l" x="1752" y="60">blue</text><rect x="1778" width="31" height="92.1" fill="#0000FF"/><rect class="q" x="1813" width="132" height="92.1" fill-opacity=".54"/><rect class="q" x="1945" width="132" height="92.1" fill-opacity=".74"/><text class="n" x="1879" y="43">-0.54</text><text class="n" x="1879" y="60">(0.07)</text><text class="n" x="2011" y="43">-0.74</text><text class="n" x="2011" y="60">(0.006)</text></g>
<g transform="translate(0,368.16)"><text class="l" x="1752" y="60">ivory</text><rect x="1778" width="31" height="92.1" fill="#FFFFF0"/><rect class="q" x="1813" width="132" height="92.1" fill-opacity=".0046"/><rect class="q" x="1945" width="132" height="92.1" fill-opacity=".95"/><text class="n" x="1879" y="43">-0.0046</text><text class="n" x="1879" y="60">(1)</text><text class="n" x="2011" y="43">-0.95</text><text class="n" x="2011" y="60">(3e-06)</text></g>
<g transform="translate(0,460.2)"><text class="l" x="1752" y="60">greenyellow</text><rect x="1778" width="31" height="92.1" fill="#ADFF2F"/><rect class="q" x="1813" width="132" height="92.1" fill-opacity=".38"/><rect class="q" x="1945" width="132" height="92.1" fill-opacity=".38"/><text class="n" x="1879" y="43">-0.38</text><text class="n" x="1879" y="60">(0.2)</text><text class="n" x="2011" y="43">-0.38</text><text class="n" x="2011" y="60">(0.2)</text></g>
<g transform="translate(0,552.24)"><text class="l" x="1752" y="60">coral2</text><rect x="1778" width="31" height="92.1" fill="#EE6A50"/><rect class="q" x="1813" width="132" height="92.1" fill-opacity=".64"/><rect class="q" x="1945" width="132" height="92.1" fill-opacity=".12"/><text class="n" x="1879" y="43">-0.64</text><text class="n" x="1879" y="60">(0.02)</text><text class="n" x="2011" y="43">-0.12</text><text class="n" x="2011" y="60">(0.7)</text></g>
<g transform="translate(0,644.28)"><text class="l" x="1752" y="60">mediumpurple3</text><rect x="1778" width="31" height="92.1" fill="#8968CD"/><rect class="q" x="1813" width="132" height="92.1" fill-opacity=".96"/><rect class="q" x="1945" width="132" height="92.1" fill-opacity=".17"/><text class="n" x="1879" y="43">-0.96</text><text class="n" x="1879" y="60">(5e-07)</text><text class="n" x="2011" y="43">-0.17</text><text class="n" x="2011" y="60">(0.6)</text></g>
<g transform="translate(0,736.32)"><text class="l" x="1752" y="60">salmon4</text><rect x="1778" width="31" height="92.1" fill="#8B4C39"/><rect class="q" x="1813" width="132" height="92.1" fill-opacity=".3"/><rect class="p" x="1945" width="132" height="92.1" fill-opacity=".27"/><text class="n" x="1879" y="43">-0.3</text><text class="n" x="1879" y="60">(0.3)</text><text class="n" x="2011" y="43">0.27</text><text class="n" x="2011" y="60">(0.4)</text></g>
<g transform="translate(0,828.36)"><text class="l" x="1752" y="60">tan</text><rect x="1778" width="31" height="92.1" fill="#D2B48C"/><rect class="p" x="1813" width="132" height="92.1" fill-opacity=".32"/><rect class="q" x="1945" width="132" height="92.1" fill-opacity=".23"/><text class="n" x="1879" y="43">0.32</text><text class="n" x="1879" y="60">(0.3)</text><text class="n" x="2011" y="43">-0.23</text><text class="n" x="2011" y="60">(0.5)</text></g>
<g transform="translate(0,920.4)"><text class="l" x="1752" y="60">antiquewhite4</text><rect x="1778" width="31" height="92.1" fill="#8B8378"/><rect class="p" x="1813" width="132" height="92.1" fill-opacity=".12"/><rect class="q" x="1945" width="132" height="92.1" fill-opacity=".066"/><text class="n" x="1879" y="43">0.12</text><text class="n" x="1879" y="60">(0.7)</text><text class="n" x="2011" y="43">-0.066</text><text class="n" x="2011" y="60">(0.8)</text></g>
<g transform="translate(0,1012.44)"><text class="l" x="1752" y="60">plum1</text><rect x="1778" width="31" height="92.1" fill="#FFBBFF"/><rect class="p" x="1813" width="132" height="92.1" fill-opacity=".36"/><rect class="p" x="1945" width="132" height="92.1" fill-opacity=".23"/><text class="n" x="1879" y="43">0.36</text><text class="n" x="1879" y="60">(0.3)</text><text class="n" x="2011" y="43">0.23</text><text class="n" x="2011" y="60">(0.5)</text></g>
<g transform="translate(0,1104.48)"><text class="l" x="1752" y="60">darkgreen</text><rect x="1778" width="31" height="92.1" fill="#006400"/><rect class="p" x="1813" width="132" height="92.1" fill-opacity=".41"/><rect class="q" x="1945" width="132" height="92.1" fill-opacity=".36"/><text class="n" x="1879" y="43">0.41</text><text class="n" x="1879" y="60">(0.2)</text><text class="n" x="2011" y="43">-0.36</text><text class="n" x="2011" y="60">(0.2)</text></g>
<g transform="translate(0,1196.52)"><text class="l" x="1752" y="60">darkseagreen4</text><rect x="1778" width="31" height="92.1" fill="#698B69"/><rect class="p" x="1813" width="132" height="92.1" fill-opacity=".25"/><rect class="q" x="1945" width="132" height="92.1" fill-opacity=".29"/><text class="n" x="1879" y="43">0.25</text><text class="n" x="1879" y="60">(0.4)</text><text class="n" x="2011" y="43">-0.29</text><text class="n" x="2011" y="60">(0.4)</text></g>
<g transform="translate(0,1288.56)"><text class="l" x="1752" y="60">darkolivegreen</text><rect x="1778" width="31" height="92.1" fill="#556B2F"/><rect class="p" x="1813" width="132" height="92.1" fill-opacity=".66"/><rect class="q" x="1945" width="132" height="92.1" fill-opacity=".53"/><text class="n" x="1879" y="43">0.66</text><text class="n" x="1879" y="60">(0.02)</text><text class="n" x="2011" y="43">-0.53</text><text class="n" x="2011" y="60">(0.07)</text></g>
<g transform="translate(0,1380.6)"><text class="l" x="1752" y="60">red</text><rect x="1778" width="31" height="92.1" fill="#FF0000"/><rect class="p" x="1813" width="132" height="92.1" fill-opacity=".27"/><rect class="q" x="1945" width="132" height="92.1" fill-opacity=".36"/><text class="n" x="1879" y="43">0.27</text><text class="n" x="1879" y="60">(0.4)</text><text class="n" x="2011" y="43">-0.36</text><text class="n" x="2011" y="60">(0.3)</text></g>
<g transform="translate(0,1472.64)"><text class="l" x="1752" y="60">black</text><rect x="1778" width="31" height="92.1" fill="#000000"/><rect class="p" x="1813" width="132" height="92.1" fill-opacity=".46"/><rect class="p" x="1945" width="132" height="92.1" fill-opacity=".38"/><text class="n" x="1879" y="43">0.46</text><text class="n" x="1879" y="60">(0.1)</text><text class="n" x="2011" y="43">0.38</text><text class="n" x="2011" y="60">(0.2)</text></g>
<g transform="translate(0,1564.68)"><text class="l" x="1752" y="60">bisque4</text><rect x="1778" width="31" height="92.1" fill="#8B7D6B"/><rect class="p" x="1813" width="132" height="92.1" fill-opacity=".63"/><rect class="p" x="1945" width="132" height="92.1" fill-opacity=".4"/><text class="n" x="1879" y="43">0.63</text><text class="n" x="1879" y="60">(0.03)</text><text class="n" x="2011" y="43">0.4</text><text class="n" x="2011" y="60">(0.2)</text></g>
<g transform="translate(0,1656.72)"><text class="l" x="1752" y="60">brown4</text><rect x="1778" width="31" height="92.1" fill="#8B2323"/><rect class="p" x="1813" width="132" height="92.1" fill-opacity=".55"/><rect class="p" x="1945" width="132" height="92.1" fill-opacity=".69"/><text class="n" x="1879" y="43">0.55</text><text class="n" x="1879" y="60">(0.06)</text><text class="n" x="2011" y="43">0.69</text><text class="n" x="2011" y="60">(0.01)</text></g>
<g transform="translate(0,1748.76)"><text class="l" x="1752" y="60">honeydew1</text><rect x="1778" width="31" height="92.1" fill="#F0FFF0"/><rect class="q" x="1813" width="132" height="92.1" fill-opacity=".56"/><rect class="p" x="1945" width="132" height="92.1" fill-opacity=".39"/><text class="n" x="1879" y="43">-0.56</text><text class="n" x="1879" y="60">(0.06)</text><text class="n" x="2011" y="43">0.39</text><text class="n" x="2011" y="60">(0.2)</text></g>
<g transform="translate(0,1840.8)"><text class="l" x="1752" y="60">skyblue</text><rect x="1778" width="31" height="92.1" fill="#87CEEB"/><rect class="q" x="1813" width="132" height="92.1" fill-opacity=".41"/><rect class="p" x="1945" width="132" height="92.1" fill-opacity=".31"/><text class="n" x="1879" y="43">-0.41</text><text class="n" x="1879" y="60">(0.2)</text><text class="n" x="2011" y="43">0.31</text><text class="n" x="2011" y="60">(0.3)</text></g>
<g transform="translate(0,1932.84)"><text class="l" x="1752" y="60">darkmagenta</text><rect x="1778" width="31" height="92.1" fill="#8B008B"/><rect class="q" x="1813" width="132" height="92.1" fill-opacity=".42"/><rect class="p" x="1945" width="132" height="92.1" fill-opacity=".76"/><text class="n" x="1879" y="43">-0.42</text><text class="n" x="1879" y="60">(0.2)</text><text class="n" x="2011" y="43">0.76</text><text class="n" x="2011" y="60">(0.004)</text></g>
<g transform="translate(0,2024.88)"><text class="l" x="1752" y="60">yellow4</text><rect x="1778" width="31" height="92.1" fill="#8B8B00"/><rect class="p" x="1813" width="132" height="92.1" fill-opacity=".055"/><rect class="p" x="1945" width="132" height="92.1" fill-opacity=".98"/><text class="n" x="1879" y="43">0.055</text><text class="n" x="1879" y="60">(0.9)</text><text class="n" x="2011" y="43">0.98</text><text class="n" x="2011" y="60">(6e-08)</text></g>
<g transform="translate(0,2116.92)"><text class="l" x="1752" y="60">grey</text><rect x="1778" width="31" height="92.1" fill="#BEBEBE"/><rect class="q" x="1813" width="132" height="92.1" fill-opacity=".13"/><rect class="p" x="1945" width="132" height="92.1" fill-opacity=".16"/><text class="n" x="1879" y="43">-0.13</text><text class="n" x="1879" y="60">(0.7)</text><text class="n" x="2011" y="43">0.16</text><text class="n" x="2011" y="60">(0.6)</text></g>
<rect class="b" x="1813" y="0" width="264" height="2209"/>
</g>

<!-- ===== BOTTOM d1 ===== -->
<g transform="translate(0,2521)">
<g transform="translate(0,0)"><text class="l" x="401" y="67">white</text><rect x="410" width="31" height="105.2" fill="#FFFFFF"/><rect class="p" x="446" width="132" height="105.2" fill-opacity=".26"/><rect class="p" x="578" width="132" height="105.2" fill-opacity=".36"/><text class="n" x="512" y="50">0.26</text><text class="n" x="512" y="67">(0.4)</text><text class="n" x="644" y="50">0.36</text><text class="n" x="644" y="67">(0.2)</text></g>
<g transform="translate(0,105.14)"><text class="l" x="401" y="67">skyblue</text><rect x="410" width="31" height="105.2" fill="#87CEEB"/><rect class="q" x="446" width="132" height="105.2" fill-opacity=".39"/><rect class="p" x="578" width="132" height="105.2" fill-opacity=".3"/><text class="n" x="512" y="50">-0.39</text><text class="n" x="512" y="67">(0.2)</text><text class="n" x="644" y="50">0.3</text><text class="n" x="644" y="67">(0.3)</text></g>
<g transform="translate(0,210.28)"><text class="l" x="401" y="67">darkorange</text><rect x="410" width="31" height="105.2" fill="#FF8C00"/><rect class="q" x="446" width="132" height="105.2" fill-opacity=".27"/><rect class="p" x="578" width="132" height="105.2" fill-opacity=".27"/><text class="n" x="512" y="50">-0.27</text><text class="n" x="512" y="67">(0.4)</text><text class="n" x="644" y="50">0.27</text><text class="n" x="644" y="67">(0.4)</text></g>
<g transform="translate(0,315.42)"><text class="l" x="401" y="67">turquoise</text><rect x="410" width="31" height="105.2" fill="#40E0D0"/><rect class="q" x="446" width="132" height="105.2" fill-opacity=".33"/><rect class="q" x="578" width="132" height="105.2" fill-opacity=".2"/><text class="n" x="512" y="50">-0.33</text><text class="n" x="512" y="67">(0.3)</text><text class="n" x="644" y="50">-0.2</text><text class="n" x="644" y="67">(0.5)</text></g>
<g transform="translate(0,420.56)"><text class="l" x="401" y="67">purple</text><rect x="410" width="31" height="105.2" fill="#A020F0"/><rect class="q" x="446" width="132" height="105.2" fill-opacity=".54"/><rect class="p" x="578" width="132" height="105.2" fill-opacity=".42"/><text class="n" x="512" y="50">-0.54</text><text class="n" x="512" y="67">(0.07)</text><text class="n" x="644" y="50">0.42</text><text class="n" x="644" y="67">(0.2)</text></g>
<g transform="translate(0,525.7)"><text class="l" x="401" y="67">brown</text><rect x="410" width="31" height="105.2" fill="#A52A2A"/><rect class="q" x="446" width="132" height="105.2" fill-opacity=".75"/><rect class="p" x="578" width="132" height="105.2" fill-opacity=".031"/><text class="n" x="512" y="50">-0.75</text><text class="n" x="512" y="67">(0.005)</text><text class="n" x="644" y="50">0.031</text><text class="n" x="644" y="67">(0.9)</text></g>
<g transform="translate(0,630.84)"><text class="l" x="401" y="67">tan</text><rect x="410" width="31" height="105.2" fill="#D2B48C"/><rect class="q" x="446" width="132" height="105.2" fill-opacity=".62"/><rect class="p" x="578" width="132" height="105.2" fill-opacity=".21"/><text class="n" x="512" y="50">-0.62</text><text class="n" x="512" y="67">(0.03)</text><text class="n" x="644" y="50">0.21</text><text class="n" x="644" y="67">(0.5)</text></g>
<g transform="translate(0,735.98)"><text class="l" x="401" y="67">greenyellow</text><rect x="410" width="31" height="105.2" fill="#ADFF2F"/><rect class="p" x="446" width="132" height="105.2" fill-opacity=".54"/><rect class="q" x="578" width="132" height="105.2" fill-opacity=".077"/><text class="n" x="512" y="50">0.54</text><text class="n" x="512" y="67">(0.07)</text><text class="n" x="644" y="50">-0.077</text><text class="n" x="644" y="67">(0.8)</text></g>
<g transform="translate(0,841.12)"><text class="l" x="401" y="67">grey60</text><rect x="410" width="31" height="105.2" fill="#999999"/><rect class="p" x="446" width="132" height="105.2" fill-opacity=".29"/><rect class="q" x="578" width="132" height="105.2" fill-opacity=".28"/><text class="n" x="512" y="50">0.29</text><text class="n" x="512" y="67">(0.4)</text><text class="n" x="644" y="50">-0.28</text><text class="n" x="644" y="67">(0.4)</text></g>
<g transform="translate(0,946.26)"><text class="l" x="401" y="67">cyan</text><rect x="410" width="31" height="105.2" fill="#00FFFF"/><rect class="q" x="446" width="132" height="105.2" fill-opacity=".086"/><rect class="p" x="578" width="132" height="105.2" fill-opacity=".53"/><text class="n" x="512" y="50">-0.086</text><text class="n" x="512" y="67">(0.8)</text><text class="n" x="644" y="50">0.53</text><text class="n" x="644" y="67">(0.08)</text></g>
<g transform="translate(0,1051.4)"><text class="l" x="401" y="67">salmon</text><rect x="410" width="31" height="105.2" fill="#FA8072"/><rect class="p" x="446" width="132" height="105.2" fill-opacity=".32"/><rect class="p" x="578" width="132" height="105.2" fill-opacity=".36"/><text class="n" x="512" y="50">0.32</text><text class="n" x="512" y="67">(0.3)</text><text class="n" x="644" y="50">0.36</text><text class="n" x="644" y="67">(0.2)</text></g>
<g transform="translate(0,1156.54)"><text class="l" x="401" y="67">green</text><rect x="410" width="31" height="105.2" fill="#00FF00"/><rect class="q" x="446" width="132" height="105.2" fill-opacity=".17"/><rect class="p" x="578" width="132" height="105.2" fill-opacity=".044"/><text class="n" x="512" y="50">-0.17</text><text class="n" x="512" y="67">(0.6)</text><text class="n" x="644" y="50">0.044</text><text class="n" x="644" y="67">(0.9)</text></g>
<g transform="translate(0,1261.68)"><text class="l" x="401" y="67">lightcyan</text><rect x="410" width="31" height="105.2" fill="#E0FFFF"/><rect class="p" x="446" width="132" height="105.2" fill-opacity=".33"/><rect class="q" x="578" width="132" height="105.2" fill-opacity=".32"/><text class="n" x="512" y="50">0.33</text><text class="n" x="512" y="67">(0.3)</text><text class="n" x="644" y="50">-0.32</text><text class="n" x="644" y="67">(0.3)</text></g>
<g transform="translate(0,1366.82)"><text class="l" x="401" y="67">midnightblue</text><rect x="410" width="31" height="105.2" fill="#191970"/><rect class="q" x="446" width="132" height="105.2" fill-opacity=".13"/><rect class="q" x="578" width="132" height="105.2" fill-opacity=".44"/><text class="n" x="512" y="50">-0.13</text><text class="n" x="512" y="67">(0.7)</text><text class="n" x="644" y="50">-0.44</text><text class="n" x="644" y="67">(0.2)</text></g>
<g transform="translate(0,1471.96)"><text class="l" x="401" y="67">blue</text><rect x="410" width="31" height="105.2" fill="#0000FF"/><rect class="p" x="446" width="132" height="105.2" fill-opacity=".23"/><rect class="q" x="578" width="132" height="105.2" fill-opacity=".36"/><text class="n" x="512" y="50">0.23</text><text class="n" x="512" y="67">(0.5)</text><text class="n" x="644" y="50">-0.36</text><text class="n" x="644" y="67">(0.3)</text></g>
<g transform="translate(0,1577.1)"><text class="l" x="401" y="67">lightgreen</text><rect x="410" width="31" height="105.2" fill="#90EE90"/><rect class="q" x="446" width="132" height="105.2" fill-opacity=".29"/><rect class="q" x="578" width="132" height="105.2" fill-opacity=".41"/><text class="n" x="512" y="50">-0.29</text><text class="n" x="512" y="67">(0.4)</text><text class="n" x="644" y="50">-0.41</text><text class="n" x="644" y="67">(0.2)</text></g>
<g transform="translate(0,1682.24)"><text class="l" x="401" y="57">darkturquois</text><text class="l" x="401" y="99">e</text><rect x="410" width="31" height="105.2" fill="#00CED1"/><rect class="q" x="446" width="132" height="105.2" fill-opacity=".32"/><rect class="q" x="578" width="132" height="105.2" fill-opacity=".24"/><text class="n" x="512" y="50">-0.32</text><text class="n" x="512" y="67">(0.3)</text><text class="n" x="644" y="50">-0.24</text><text class="n" x="644" y="67">(0.5)</text></g>
<g transform="translate(0,1787.38)"><text class="l" x="401" y="67">darkred</text><rect x="410" width="31" height="105.2" fill="#8B0000"/><rect class="p" x="446" width="132" height="105.2" fill-opacity=".36"/><rect class="p" x="578" width="132" height="105.2" fill-opacity=".39"/><text class="n" x="512" y="50">0.36</text><text class="n" x="512" y="67">(0.3)</text><text class="n" x="644" y="50">0.39</text><text class="n" x="644" y="67">(0.2)</text></g>
<g transform="translate(0,1892.52)"><text class="l" x="401" y="67">black</text><rect x="410" width="31" height="105.2" fill="#000000"/><rect class="p" x="446" width="132" height="105.2" fill-opacity=".62"/><rect class="q" x="578" width="132" height="105.2" fill-opacity=".26"/><text class="n" x="512" y="50">0.62</text><text class="n" x="512" y="67">(0.03)</text><text class="n" x="644" y="50">-0.26</text><text class="n" x="644" y="67">(0.4)</text></g>
<g transform="translate(0,1997.66)"><text class="l" x="401" y="67">darkgrey</text><rect x="410" width="31" height="105.2" fill="#A9A9A9"/><rect class="p" x="446" width="132" height="105.2" fill-opacity=".6"/><rect class="q" x="578" width="132" height="105.2" fill-opacity=".25"/><text class="n" x="512" y="50">0.6</text><text class="n" x="512" y="67">(0.04)</text><text class="n" x="644" y="50">-0.25</text><text class="n" x="644" y="67">(0.4)</text></g>
<g transform="translate(0,2102.8)"><text class="l" x="401" y="67">grey</text><rect x="410" width="31" height="105.2" fill="#BEBEBE"/><rect class="q" x="446" width="132" height="105.2" fill-opacity=".22"/><rect class="q" x="578" width="132" height="105.2" fill-opacity=".11"/><text class="n" x="512" y="50">-0.22</text><text class="n" x="512" y="67">(0.5)</text><text class="n" x="644" y="50">-0.11</text><text class="n" x="644" y="67">(0.7)</text></g>
<rect class="b" x="446" y="0" width="264" height="2208"/>
</g>

<!-- ===== BOTTOM d7 ===== -->
<g transform="translate(0,2521)">
<g transform="translate(0,0)"><text class="l" x="1065" y="59">darkmagenta</text><rect x="1075" width="31" height="88.4" fill="#8B008B"/><rect class="p" x="1111" width="131" height="88.4" fill-opacity=".69"/><rect class="q" x="1242" width="131" height="88.4" fill-opacity=".37"/><text class="n" x="1176" y="42">0.69</text><text class="n" x="1176" y="59">(0.01)</text><text class="n" x="1307" y="42">-0.37</text><text class="n" x="1307" y="59">(0.2)</text></g>
<g transform="translate(0,88.32)"><text class="l" x="1065" y="59">green</text><rect x="1075" width="31" height="88.4" fill="#00FF00"/><rect class="p" x="1111" width="131" height="88.4" fill-opacity=".91"/><rect class="q" x="1242" width="131" height="88.4" fill-opacity=".04"/><text class="n" x="1176" y="42">0.91</text><text class="n" x="1176" y="59">(5e-05)</text><text class="n" x="1307" y="42">-0.04</text><text class="n" x="1307" y="59">(0.9)</text></g>
<g transform="translate(0,176.64)"><text class="l" x="1065" y="59">orangered4</text><rect x="1075" width="31" height="88.4" fill="#8B2500"/><rect class="p" x="1111" width="131" height="88.4" fill-opacity=".32"/><rect class="q" x="1242" width="131" height="88.4" fill-opacity=".26"/><text class="n" x="1176" y="42">0.32</text><text class="n" x="1176" y="59">(0.3)</text><text class="n" x="1307" y="42">-0.26</text><text class="n" x="1307" y="59">(0.4)</text></g>
<g transform="translate(0,264.96)"><text class="l" x="1065" y="59">black</text><rect x="1075" width="31" height="88.4" fill="#000000"/><rect class="q" x="1111" width="131" height="88.4" fill-opacity=".097"/><rect class="q" x="1242" width="131" height="88.4" fill-opacity=".87"/><text class="n" x="1176" y="42">-0.097</text><text class="n" x="1176" y="59">(0.8)</text><text class="n" x="1307" y="42">-0.87</text><text class="n" x="1307" y="59">(2e-04)</text></g>
<g transform="translate(0,353.28)"><text class="l" x="1065" y="59">thistle2</text><rect x="1075" width="31" height="88.4" fill="#EED2EE"/><rect class="p" x="1111" width="131" height="88.4" fill-opacity=".068"/><rect class="q" x="1242" width="131" height="88.4" fill-opacity=".52"/><text class="n" x="1176" y="42">0.068</text><text class="n" x="1176" y="59">(0.8)</text><text class="n" x="1307" y="42">-0.52</text><text class="n" x="1307" y="59">(0.08)</text></g>
<g transform="translate(0,441.6)"><text class="l" x="1065" y="59">yellowgreen</text><rect x="1075" width="31" height="88.4" fill="#9ACD32"/><rect class="p" x="1111" width="131" height="88.4" fill-opacity=".09"/><rect class="q" x="1242" width="131" height="88.4" fill-opacity=".32"/><text class="n" x="1176" y="42">0.09</text><text class="n" x="1176" y="59">(0.8)</text><text class="n" x="1307" y="42">-0.32</text><text class="n" x="1307" y="59">(0.3)</text></g>
<g transform="translate(0,529.92)"><text class="l" x="1065" y="59">lightcyan1</text><rect x="1075" width="31" height="88.4" fill="#E0FFFF"/><rect class="p" x="1111" width="131" height="88.4" fill-opacity=".23"/><rect class="p" x="1242" width="131" height="88.4" fill-opacity=".22"/><text class="n" x="1176" y="42">0.23</text><text class="n" x="1176" y="59">(0.5)</text><text class="n" x="1307" y="42">0.22</text><text class="n" x="1307" y="59">(0.5)</text></g>
<g transform="translate(0,618.24)"><text class="l" x="1065" y="59">skyblue3</text><rect x="1075" width="31" height="88.4" fill="#6CA6CD"/><rect class="p" x="1111" width="131" height="88.4" fill-opacity=".15"/><rect class="q" x="1242" width="131" height="88.4" fill-opacity=".71"/><text class="n" x="1176" y="42">0.15</text><text class="n" x="1176" y="59">(0.6)</text><text class="n" x="1307" y="42">-0.71</text><text class="n" x="1307" y="59">(0.01)</text></g>
<g transform="translate(0,706.56)"><text class="l" x="1065" y="59">turquoise</text><rect x="1075" width="31" height="88.4" fill="#40E0D0"/><rect class="p" x="1111" width="131" height="88.4" fill-opacity=".3"/><rect class="p" x="1242" width="131" height="88.4" fill-opacity=".056"/><text class="n" x="1176" y="42">0.3</text><text class="n" x="1176" y="59">(0.3)</text><text class="n" x="1307" y="42">0.056</text><text class="n" x="1307" y="59">(0.9)</text></g>
<g transform="translate(0,794.88)"><text class="l" x="1065" y="59">thistle1</text><rect x="1075" width="31" height="88.4" fill="#FFE1FF"/><rect class="q" x="1111" width="131" height="88.4" fill-opacity=".35"/><rect class="q" x="1242" width="131" height="88.4" fill-opacity=".39"/><text class="n" x="1176" y="42">-0.35</text><text class="n" x="1176" y="59">(0.3)</text><text class="n" x="1307" y="42">-0.39</text><text class="n" x="1307" y="59">(0.2)</text></g>
<g transform="translate(0,883.2)"><text class="l" x="1065" y="59">darkslateblue</text><rect x="1075" width="31" height="88.4" fill="#483D8B"/><rect class="q" x="1111" width="131" height="88.4" fill-opacity=".36"/><rect class="q" x="1242" width="131" height="88.4" fill-opacity=".25"/><text class="n" x="1176" y="42">-0.36</text><text class="n" x="1176" y="59">(0.2)</text><text class="n" x="1307" y="42">-0.25</text><text class="n" x="1307" y="59">(0.4)</text></g>
<g transform="translate(0,971.52)"><text class="l" x="1065" y="59">greenyellow</text><rect x="1075" width="31" height="88.4" fill="#ADFF2F"/><rect class="q" x="1111" width="131" height="88.4" fill-opacity=".62"/><rect class="q" x="1242" width="131" height="88.4" fill-opacity=".67"/><text class="n" x="1176" y="42">-0.62</text><text class="n" x="1176" y="59">(0.03)</text><text class="n" x="1307" y="42">-0.67</text><text class="n" x="1307" y="59">(0.02)</text></g>
<g transform="translate(0,1059.84)"><text class="l" x="1065" y="59">mediumpurple3</text><rect x="1075" width="31" height="88.4" fill="#8968CD"/><rect class="q" x="1111" width="131" height="88.4" fill-opacity=".49"/><rect class="q" x="1242" width="131" height="88.4" fill-opacity=".39"/><text class="n" x="1176" y="42">-0.49</text><text class="n" x="1176" y="59">(0.1)</text><text class="n" x="1307" y="42">-0.39</text><text class="n" x="1307" y="59">(0.2)</text></g>
<g transform="translate(0,1148.16)"><text class="l" x="1065" y="59">darkturquoise</text><rect x="1075" width="31" height="88.4" fill="#00CED1"/><rect class="p" x="1111" width="131" height="88.4" fill-opacity=".12"/><rect class="q" x="1242" width="131" height="88.4" fill-opacity=".48"/><text class="n" x="1176" y="42">0.12</text><text class="n" x="1176" y="59">(0.7)</text><text class="n" x="1307" y="42">-0.48</text><text class="n" x="1307" y="59">(0.1)</text></g>
<g transform="translate(0,1236.48)"><text class="l" x="1065" y="59">darkorange2</text><rect x="1075" width="31" height="88.4" fill="#EE7600"/><rect class="q" x="1111" width="131" height="88.4" fill-opacity=".059"/><rect class="q" x="1242" width="131" height="88.4" fill-opacity=".12"/><text class="n" x="1176" y="42">-0.059</text><text class="n" x="1176" y="59">(0.9)</text><text class="n" x="1307" y="42">-0.12</text><text class="n" x="1307" y="59">(0.7)</text></g>
<g transform="translate(0,1324.8)"><text class="l" x="1065" y="59">salmon</text><rect x="1075" width="31" height="88.4" fill="#FA8072"/><rect class="q" x="1111" width="131" height="88.4" fill-opacity=".38"/><rect class="q" x="1242" width="131" height="88.4" fill-opacity=".35"/><text class="n" x="1176" y="42">-0.38</text><text class="n" x="1176" y="59">(0.2)</text><text class="n" x="1307" y="42">-0.35</text><text class="n" x="1307" y="59">(0.3)</text></g>
<g transform="translate(0,1413.12)"><text class="l" x="1065" y="59">pink</text><rect x="1075" width="31" height="88.4" fill="#FFC0CB"/><rect class="p" x="1111" width="131" height="88.4" fill-opacity=".28"/><rect class="p" x="1242" width="131" height="88.4" fill-opacity=".32"/><text class="n" x="1176" y="42">0.28</text><text class="n" x="1176" y="59">(0.4)</text><text class="n" x="1307" y="42">0.32</text><text class="n" x="1307" y="59">(0.3)</text></g>
<g transform="translate(0,1501.44)"><text class="l" x="1065" y="59">brown4</text><rect x="1075" width="31" height="88.4" fill="#8B2323"/><rect class="p" x="1111" width="131" height="88.4" fill-opacity=".48"/><rect class="p" x="1242" width="131" height="88.4" fill-opacity=".54"/><text class="n" x="1176" y="42">0.48</text><text class="n" x="1176" y="59">(0.1)</text><text class="n" x="1307" y="42">0.54</text><text class="n" x="1307" y="59">(0.07)</text></g>
<g transform="translate(0,1589.76)"><text class="l" x="1065" y="59">saddlebrown</text><rect x="1075" width="31" height="88.4" fill="#8B4513"/><rect class="p" x="1111" width="131" height="88.4" fill-opacity=".28"/><rect class="p" x="1242" width="131" height="88.4" fill-opacity=".32"/><text class="n" x="1176" y="42">0.28</text><text class="n" x="1176" y="59">(0.4)</text><text class="n" x="1307" y="42">0.32</text><text class="n" x="1307" y="59">(0.3)</text></g>
<g transform="translate(0,1678.08)"><text class="l" x="1065" y="59">darkolivegreen</text><rect x="1075" width="31" height="88.4" fill="#556B2F"/><rect class="q" x="1111" width="131" height="88.4" fill-opacity=".37"/><rect class="p" x="1242" width="131" height="88.4" fill-opacity=".28"/><text class="n" x="1176" y="42">-0.37</text><text class="n" x="1176" y="59">(0.2)</text><text class="n" x="1307" y="42">0.28</text><text class="n" x="1307" y="59">(0.4)</text></g>
<g transform="translate(0,1766.4)"><text class="l" x="1065" y="59">darkorange</text><rect x="1075" width="31" height="88.4" fill="#FF8C00"/><rect class="q" x="1111" width="131" height="88.4" fill-opacity=".25"/><rect class="p" x="1242" width="131" height="88.4" fill-opacity=".61"/><text class="n" x="1176" y="42">-0.25</text><text class="n" x="1176" y="59">(0.4)</text><text class="n" x="1307" y="42">0.61</text><text class="n" x="1307" y="59">(0.04)</text></g>
<g transform="translate(0,1854.72)"><text class="l" x="1065" y="59">sienna3</text><rect x="1075" width="31" height="88.4" fill="#CD6839"/><rect class="q" x="1111" width="131" height="88.4" fill-opacity=".13"/><rect class="p" x="1242" width="131" height="88.4" fill-opacity=".54"/><text class="n" x="1176" y="42">-0.13</text><text class="n" x="1176" y="59">(0.7)</text><text class="n" x="1307" y="42">0.54</text><text class="n" x="1307" y="59">(0.07)</text></g>
<g transform="translate(0,1943.04)"><text class="l" x="1065" y="59">cyan</text><rect x="1075" width="31" height="88.4" fill="#00FFFF"/><rect class="q" x="1111" width="131" height="88.4" fill-opacity=".71"/><rect class="p" x="1242" width="131" height="88.4" fill-opacity=".42"/><text class="n" x="1176" y="42">-0.71</text><text class="n" x="1176" y="59">(0.01)</text><text class="n" x="1307" y="42">0.42</text><text class="n" x="1307" y="59">(0.2)</text></g>
<g transform="translate(0,2031.36)"><text class="l" x="1065" y="59">lightyellow</text><rect x="1075" width="31" height="88.4" fill="#FFFFE0"/><rect class="q" x="1111" width="131" height="88.4" fill-opacity=".74"/><rect class="q" x="1242" width="131" height="88.4" fill-opacity=".044"/><text class="n" x="1176" y="42">-0.74</text><text class="n" x="1176" y="59">(0.006)</text><text class="n" x="1307" y="42">-0.044</text><text class="n" x="1307" y="59">(0.9)</text></g>
<g transform="translate(0,2119.68)"><text class="l" x="1065" y="59">grey</text><rect x="1075" width="31" height="88.4" fill="#BEBEBE"/><rect class="q" x="1111" width="131" height="88.4" fill-opacity=".28"/><rect class="q" x="1242" width="131" height="88.4" fill-opacity=".0076"/><text class="n" x="1176" y="42">-0.28</text><text class="n" x="1176" y="59">(0.4)</text><text class="n" x="1307" y="42">-0.0076</text><text class="n" x="1307" y="59">(1)</text></g>
<rect class="b" x="1111" y="0" width="262" height="2208"/>
</g>

<!-- ===== BOTTOM d14 ===== -->
<g transform="translate(0,2521)">
<g transform="translate(0,0)"><text class="l" x="1752" y="60">lightpink4</text><rect x="1778" width="31" height="92.1" fill="#8B5F65"/><rect class="p" x="1813" width="132" height="92.1" fill-opacity=".45"/><rect class="q" x="1945" width="132" height="92.1" fill-opacity=".42"/><text class="n" x="1879" y="43">0.45</text><text class="n" x="1879" y="60">(0.1)</text><text class="n" x="2011" y="43">-0.42</text><text class="n" x="2011" y="60">(0.2)</text></g>
<g transform="translate(0,92)"><text class="l" x="1752" y="60">yellowgreen</text><rect x="1778" width="31" height="92.1" fill="#9ACD32"/><rect class="p" x="1813" width="132" height="92.1" fill-opacity=".61"/><rect class="p" x="1945" width="132" height="92.1" fill-opacity=".027"/><text class="n" x="1879" y="43">0.61</text><text class="n" x="1879" y="60">(0.04)</text><text class="n" x="2011" y="43">0.027</text><text class="n" x="2011" y="60">(0.9)</text></g>
<g transform="translate(0,184)"><text class="l" x="1752" y="60">darkslateblue</text><rect x="1778" width="31" height="92.1" fill="#483D8B"/><rect class="p" x="1813" width="132" height="92.1" fill-opacity=".48"/><rect class="q" x="1945" width="132" height="92.1" fill-opacity=".4"/><text class="n" x="1879" y="43">0.48</text><text class="n" x="1879" y="60">(0.1)</text><text class="n" x="2011" y="43">-0.4</text><text class="n" x="2011" y="60">(0.2)</text></g>
<g transform="translate(0,276)"><text class="l" x="1752" y="60">lightgreen</text><rect x="1778" width="31" height="92.1" fill="#90EE90"/><rect class="p" x="1813" width="132" height="92.1" fill-opacity=".75"/><rect class="q" x="1945" width="132" height="92.1" fill-opacity=".43"/><text class="n" x="1879" y="43">0.75</text><text class="n" x="1879" y="60">(0.005)</text><text class="n" x="2011" y="43">-0.43</text><text class="n" x="2011" y="60">(0.2)</text></g>
<g transform="translate(0,368)"><text class="l" x="1752" y="60">darkorange2</text><rect x="1778" width="31" height="92.1" fill="#EE7600"/><rect class="p" x="1813" width="132" height="92.1" fill-opacity=".078"/><rect class="q" x="1945" width="132" height="92.1" fill-opacity=".7"/><text class="n" x="1879" y="43">0.078</text><text class="n" x="1879" y="60">(0.8)</text><text class="n" x="2011" y="43">-0.7</text><text class="n" x="2011" y="60">(0.01)</text></g>
<g transform="translate(0,460)"><text class="l" x="1752" y="60">mediumpurple3</text><rect x="1778" width="31" height="92.1" fill="#8968CD"/><rect class="p" x="1813" width="132" height="92.1" fill-opacity=".27"/><rect class="q" x="1945" width="132" height="92.1" fill-opacity=".78"/><text class="n" x="1879" y="43">0.27</text><text class="n" x="1879" y="60">(0.4)</text><text class="n" x="2011" y="43">-0.78</text><text class="n" x="2011" y="60">(0.002)</text></g>
<g transform="translate(0,552)"><text class="l" x="1752" y="60">sienna3</text><rect x="1778" width="31" height="92.1" fill="#CD6839"/><rect class="q" x="1813" width="132" height="92.1" fill-opacity=".35"/><rect class="q" x="1945" width="132" height="92.1" fill-opacity=".28"/><text class="n" x="1879" y="43">-0.35</text><text class="n" x="1879" y="60">(0.3)</text><text class="n" x="2011" y="43">-0.28</text><text class="n" x="2011" y="60">(0.4)</text></g>
<g transform="translate(0,644)"><text class="l" x="1752" y="60">black</text><rect x="1778" width="31" height="92.1" fill="#000000"/><rect class="q" x="1813" width="132" height="92.1" fill-opacity=".58"/><rect class="q" x="1945" width="132" height="92.1" fill-opacity=".68"/><text class="n" x="1879" y="43">-0.58</text><text class="n" x="1879" y="60">(0.05)</text><text class="n" x="2011" y="43">-0.68</text><text class="n" x="2011" y="60">(0.01)</text></g>
<g transform="translate(0,736)"><text class="l" x="1752" y="60">saddlebrown</text><rect x="1778" width="31" height="92.1" fill="#8B4513"/><rect class="q" x="1813" width="132" height="92.1" fill-opacity=".32"/><rect class="q" x="1945" width="132" height="92.1" fill-opacity=".33"/><text class="n" x="1879" y="43">-0.32</text><text class="n" x="1879" y="60">(0.3)</text><text class="n" x="2011" y="43">-0.33</text><text class="n" x="2011" y="60">(0.3)</text></g>
<g transform="translate(0,828)"><text class="l" x="1752" y="60">ivory</text><rect x="1778" width="31" height="92.1" fill="#FFFFF0"/><rect class="p" x="1813" width="132" height="92.1" fill-opacity=".5"/><rect class="p" x="1945" width="132" height="92.1" fill-opacity=".4"/><text class="n" x="1879" y="43">0.5</text><text class="n" x="1879" y="60">(0.1)</text><text class="n" x="2011" y="43">0.4</text><text class="n" x="2011" y="60">(0.2)</text></g>
<g transform="translate(0,920)"><text class="l" x="1752" y="60">brown</text><rect x="1778" width="31" height="92.1" fill="#A52A2A"/><rect class="p" x="1813" width="132" height="92.1" fill-opacity=".42"/><rect class="p" x="1945" width="132" height="92.1" fill-opacity=".83"/><text class="n" x="1879" y="43">0.42</text><text class="n" x="1879" y="60">(0.2)</text><text class="n" x="2011" y="43">0.83</text><text class="n" x="2011" y="60">(9e-04)</text></g>
<g transform="translate(0,1012)"><text class="l" x="1752" y="60">greenyellow</text><rect x="1778" width="31" height="92.1" fill="#ADFF2F"/><rect class="p" x="1813" width="132" height="92.1" fill-opacity=".57"/><rect class="p" x="1945" width="132" height="92.1" fill-opacity=".4"/><text class="n" x="1879" y="43">0.57</text><text class="n" x="1879" y="60">(0.05)</text><text class="n" x="2011" y="43">0.4</text><text class="n" x="2011" y="60">(0.2)</text></g>
<g transform="translate(0,1104)"><text class="l" x="1752" y="60">coral1</text><rect x="1778" width="31" height="92.1" fill="#FF7256"/><rect class="p" x="1813" width="132" height="92.1" fill-opacity=".25"/><rect class="p" x="1945" width="132" height="92.1" fill-opacity=".64"/><text class="n" x="1879" y="43">0.25</text><text class="n" x="1879" y="60">(0.4)</text><text class="n" x="2011" y="43">0.64</text><text class="n" x="2011" y="60">(0.02)</text></g>
<g transform="translate(0,1196)"><text class="l" x="1752" y="60">darkgreen</text><rect x="1778" width="31" height="92.1" fill="#006400"/><rect class="p" x="1813" width="132" height="92.1" fill-opacity=".19"/><rect class="q" x="1945" width="132" height="92.1" fill-opacity=".0021"/><text class="n" x="1879" y="43">0.19</text><text class="n" x="1879" y="60">(0.6)</text><text class="n" x="2011" y="43">-0.0021</text><text class="n" x="2011" y="60">(1)</text></g>
<g transform="translate(0,1288)"><text class="l" x="1752" y="60">darkolivegreen</text><rect x="1778" width="31" height="92.1" fill="#556B2F"/><rect class="p" x="1813" width="132" height="92.1" fill-opacity=".48"/><rect class="q" x="1945" width="132" height="92.1" fill-opacity=".36"/><text class="n" x="1879" y="43">0.48</text><text class="n" x="1879" y="60">(0.1)</text><text class="n" x="2011" y="43">-0.36</text><text class="n" x="2011" y="60">(0.3)</text></g>
<g transform="translate(0,1380)"><text class="l" x="1752" y="60">mediumorchid</text><rect x="1778" width="31" height="92.1" fill="#BA55D3"/><rect class="q" x="1813" width="132" height="92.1" fill-opacity=".33"/><rect class="p" x="1945" width="132" height="92.1" fill-opacity=".21"/><text class="n" x="1879" y="43">-0.33</text><text class="n" x="1879" y="60">(0.3)</text><text class="n" x="2011" y="43">0.21</text><text class="n" x="2011" y="60">(0.5)</text></g>
<g transform="translate(0,1472)"><text class="l" x="1752" y="60">skyblue</text><rect x="1778" width="31" height="92.1" fill="#87CEEB"/><rect class="q" x="1813" width="132" height="92.1" fill-opacity=".84"/><rect class="p" x="1945" width="132" height="92.1" fill-opacity=".0055"/><text class="n" x="1879" y="43">-0.84</text><text class="n" x="1879" y="60">(7e-04)</text><text class="n" x="2011" y="43">0.0055</text><text class="n" x="2011" y="60">(1)</text></g>
<g transform="translate(0,1564)"><text class="l" x="1752" y="60">brown4</text><rect x="1778" width="31" height="92.1" fill="#8B2323"/><rect class="q" x="1813" width="132" height="92.1" fill-opacity=".66"/><rect class="p" x="1945" width="132" height="92.1" fill-opacity=".23"/><text class="n" x="1879" y="43">-0.66</text><text class="n" x="1879" y="60">(0.02)</text><text class="n" x="2011" y="43">0.23</text><text class="n" x="2011" y="60">(0.5)</text></g>
<g transform="translate(0,1656)"><text class="l" x="1752" y="60">thistle1</text><rect x="1778" width="31" height="92.1" fill="#FFE1FF"/><rect class="q" x="1813" width="132" height="92.1" fill-opacity=".17"/><rect class="p" x="1945" width="132" height="92.1" fill-opacity=".23"/><text class="n" x="1879" y="43">-0.17</text><text class="n" x="1879" y="60">(0.6)</text><text class="n" x="2011" y="43">0.23</text><text class="n" x="2011" y="60">(0.5)</text></g>
<g transform="translate(0,1748)"><text class="l" x="1752" y="60">darkmagenta</text><rect x="1778" width="31" height="92.1" fill="#8B008B"/><rect class="q" x="1813" width="132" height="92.1" fill-opacity=".2"/><rect class="p" x="1945" width="132" height="92.1" fill-opacity=".93"/><text class="n" x="1879" y="43">-0.2</text><text class="n" x="1879" y="60">(0.5)</text><text class="n" x="2011" y="43">0.93</text><text class="n" x="2011" y="60">(2e-05)</text></g>
<g transform="translate(0,1840)"><text class="l" x="1752" y="60">darkred</text><rect x="1778" width="31" height="92.1" fill="#8B0000"/><rect class="q" x="1813" width="132" height="92.1" fill-opacity=".6"/><rect class="p" x="1945" width="132" height="92.1" fill-opacity=".48"/><text class="n" x="1879" y="43">-0.6</text><text class="n" x="1879" y="60">(0.04)</text><text class="n" x="2011" y="43">0.48</text><text class="n" x="2011" y="60">(0.1)</text></g>
<g transform="translate(0,1932)"><text class="l" x="1752" y="60">darkseagreen4</text><rect x="1778" width="31" height="92.1" fill="#698B69"/><rect class="q" x="1813" width="132" height="92.1" fill-opacity=".51"/><rect class="p" x="1945" width="132" height="92.1" fill-opacity=".41"/><text class="n" x="1879" y="43">-0.51</text><text class="n" x="1879" y="60">(0.09)</text><text class="n" x="2011" y="43">0.41</text><text class="n" x="2011" y="60">(0.2)</text></g>
<g transform="translate(0,2024)"><text class="l" x="1752" y="60">mediumpurple2</text><rect x="1778" width="31" height="92.1" fill="#9F79EE"/><rect class="q" x="1813" width="132" height="92.1" fill-opacity=".36"/><rect class="p" x="1945" width="132" height="92.1" fill-opacity=".16"/><text class="n" x="1879" y="43">-0.36</text><text class="n" x="1879" y="60">(0.2)</text><text class="n" x="2011" y="43">0.16</text><text class="n" x="2011" y="60">(0.6)</text></g>
<g transform="translate(0,2116)"><text class="l" x="1752" y="60">grey</text><rect x="1778" width="31" height="92" fill="#BEBEBE"/><rect class="p" x="1813" width="132" height="92" fill-opacity=".096"/><rect class="p" x="1945" width="132" height="92" fill-opacity=".056"/><text class="n" x="1879" y="43">0.096</text><text class="n" x="1879" y="60">(0.8)</text><text class="n" x="2011" y="43">0.056</text><text class="n" x="2011" y="60">(0.9)</text></g>
<rect class="b" x="1813" y="0" width="264" height="2208"/>
</g>

<text class="x" x="512" y="2358">Cold</text><text class="x" x="644" y="2358">Salt</text>
<text class="x" x="1176" y="2358">Cold</text><text class="x" x="1307" y="2358">Salt</text>
<text class="x" x="1879" y="2358">Cold</text><text class="x" x="2011" y="2358">Salt</text>
<text class="x" x="512" y="4765">Cold</text><text class="x" x="644" y="4765">Salt</text>
<text class="x" x="1176" y="4765">Cold</text><text class="x" x="1307" y="4765">Salt</text>
<text class="x" x="1879" y="4765">Cold</text><text class="x" x="2011" y="4765">Salt</text>

<g>
<rect x="2087" y="245" width="14" height="1944" fill="url(#cb)" stroke="#555" stroke-width="2"/>
<path d="M2101 245h9M2101 731h9M2101 1217h9M2101 1703h9M2101 2189h9" stroke="#555" stroke-width="2"/>
<text class="c" x="2114" y="252">1</text><text class="c" x="2114" y="738">0.5</text><text class="c" x="2114" y="1224">0</text><text class="c" x="2114" y="1710">-0.5</text><text class="c" x="2114" y="2196">-1</text>
</g>
<g>
<rect x="2087" y="2653" width="14" height="1944" fill="url(#cb)" stroke="#555" stroke-width="2"/>
<path d="M2101 2653h9M2101 3139h9M2101 3625h9M2101 4111h9M2101 4597h9" stroke="#555" stroke-width="2"/>
<text class="c" x="2114" y="2660">1</text><text class="c" x="2114" y="3146">0.5</text><text class="c" x="2114" y="3632">0</text><text class="c" x="2114" y="4118">-0.5</text><text class="c" x="2114" y="4604">-1</text>
</g>
</svg>
</body></html>
